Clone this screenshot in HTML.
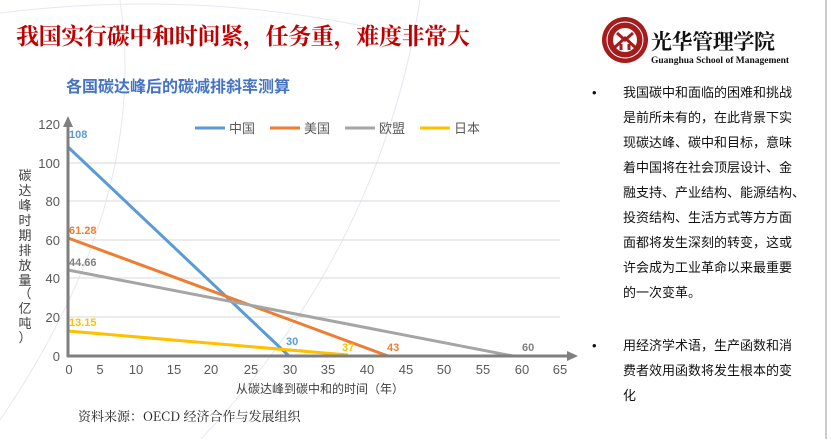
<!DOCTYPE html>
<html><head><meta charset="utf-8"><style>
body{margin:0;width:831px;height:439px;overflow:hidden;background:#fff;font-family:"Liberation Sans","Noto Sans CJK SC",sans-serif}
</style></head><body>
<svg width="831" height="439" xmlns="http://www.w3.org/2000/svg" font-family="Liberation Sans, Noto Sans CJK SC, sans-serif">
<g stroke="#e6e8f0" fill="none" stroke-width="1">
<path d="M-50 20 Q200 -20 420 40"/><path d="M0 420 Q150 200 120 0"/><path d="M200 440 Q380 250 420 0"/>
</g>
<text x="16" y="44" font-size="23" font-weight="bold" fill="#c00000" font-family="Noto Serif CJK SC, serif" textLength="454">我国实行碳中和时间紧，任务重，难度非常大</text>
<text x="66" y="92" font-size="16" font-weight="bold" fill="#4472c4">各国碳达峰后的碳减排斜率测算</text>
<g stroke="#d9d9d9" stroke-width="1">
<line x1="68" y1="317" x2="560" y2="317"/><line x1="68" y1="278" x2="560" y2="278"/>
<line x1="68" y1="240" x2="560" y2="240"/><line x1="68" y1="201" x2="560" y2="201"/>
<line x1="68" y1="163" x2="560" y2="163"/>
</g>
<g fill="#595959" font-size="13" text-anchor="end">
<text x="60" y="361">0</text><text x="60" y="322">20</text><text x="60" y="283">40</text><text x="60" y="245">60</text><text x="60" y="206">80</text><text x="60" y="168">100</text><text x="60" y="129">120</text>
</g>
<g fill="#595959" font-size="13" text-anchor="middle">
<text x="69" y="374">0</text><text x="100" y="374">5</text><text x="136" y="374">10</text><text x="174" y="374">15</text><text x="211" y="374">20</text><text x="251" y="374">25</text><text x="290" y="374">30</text><text x="328" y="374">35</text><text x="367" y="374">40</text><text x="406" y="374">45</text><text x="444" y="374">50</text><text x="483" y="374">55</text><text x="522" y="374">60</text><text x="560" y="374">65</text>
</g>
<text x="236" y="393" font-size="12" fill="#404040">从碳达峰到碳中和的时间（年）</text>
<g font-size="13" fill="#404040" text-anchor="middle">
<text x="25" y="180">碳</text><text x="25" y="195">达</text><text x="25" y="210">峰</text><text x="25" y="225">时</text><text x="25" y="240">期</text><text x="25" y="255">排</text><text x="25" y="270">放</text><text x="25" y="285">量</text><text x="25" y="298">（</text><text x="25" y="313">亿</text><text x="25" y="328">吨</text><text x="25" y="342">）</text>
</g>
<g stroke-width="3" fill="none">
<line x1="68" y1="147" x2="289" y2="356" stroke="#5b9bd5"/>
<line x1="68" y1="238" x2="388" y2="356" stroke="#ed7d31"/>
<line x1="68" y1="270" x2="513" y2="356" stroke="#a5a5a5"/>
<line x1="68" y1="331" x2="348" y2="355" stroke="#ffc000"/>
</g>
<g stroke="#7f7f7f" stroke-width="3">
<line x1="68" y1="357" x2="68" y2="124"/><line x1="67" y1="356" x2="570" y2="356"/>
</g>
<polygon points="68,116 63,127 73,127" fill="#7f7f7f"/>
<polygon points="578,356 567,351 567,361" fill="#7f7f7f"/>
<g font-size="11" font-weight="bold">
<text x="69" y="138" fill="#5b9bd5">108</text>
<text x="69" y="234" fill="#ed7d31">61.28</text>
<text x="69" y="266" fill="#7f7f7f">44.66</text>
<text x="69" y="326" fill="#ffc000">13.15</text>
<text x="286" y="345" fill="#5b9bd5">30</text>
<text x="342" y="351" fill="#ffc000">37</text>
<text x="387" y="351" fill="#ed7d31">43</text>
<text x="522" y="351" fill="#7f7f7f">60</text>
</g>
<g stroke-width="3">
<line x1="195" y1="128" x2="225" y2="128" stroke="#5b9bd5"/>
<line x1="270" y1="128" x2="300" y2="128" stroke="#ed7d31"/>
<line x1="345" y1="128" x2="375" y2="128" stroke="#a5a5a5"/>
<line x1="420" y1="128" x2="450" y2="128" stroke="#ffc000"/>
</g>
<g font-size="13" fill="#595959">
<text x="229" y="133">中国</text><text x="304" y="133">美国</text><text x="379" y="133">欧盟</text><text x="454" y="133">日本</text>
</g>
<text x="78" y="421" font-size="13" fill="#222" font-family="Noto Serif CJK SC, serif">资料来源：OECD 经济合作与发展组织</text>
<circle cx="625" cy="40" r="23" fill="#a51c1c"/>
<circle cx="625" cy="40" r="18" fill="none" stroke="#fff" stroke-width="1"/>
<circle cx="625" cy="40" r="12" fill="#fff"/>
<path d="M617 33 L625 40 L633 33 M614 48 L625 38 L636 48 M621 44 L621 50 M629 44 L629 50" stroke="#a51c1c" stroke-width="3" fill="none"/>
<text x="651" y="49" font-size="21" fill="#111" font-family="Noto Serif CJK SC, serif" font-weight="bold" textLength="124">光华管理学院</text>
<text x="651" y="63" font-size="9.5" font-weight="bold" fill="#111" font-family="Liberation Serif, serif">Guanghua School of Management</text>
<line x1="826" y1="0" x2="826" y2="439" stroke="#bbb" stroke-width="1.5"/>
<g font-size="13" fill="#111">
<text x="592" y="97">•</text>
<text x="623" y="97">我国碳中和面临的困难和挑战</text>
<text x="623" y="122">是前所未有的，在此背景下实</text>
<text x="623" y="147">现碳达峰、碳中和目标，意味</text>
<text x="623" y="172">着中国将在社会顶层设计、金</text>
<text x="623" y="197">融支持、产业结构、能源结构、</text>
<text x="623" y="222">投资结构、生活方式等方方面</text>
<text x="623" y="247">面都将发生深刻的转变，这或</text>
<text x="623" y="272">许会成为工业革命以来最重要</text>
<text x="623" y="297">的一次变革。</text>
<text x="592" y="350">•</text>
<text x="623" y="350">用经济学术语，生产函数和消</text>
<text x="623" y="375">费者效用函数将发生根本的变</text>
<text x="623" y="400">化</text>
</g>
</svg>
</body></html>
